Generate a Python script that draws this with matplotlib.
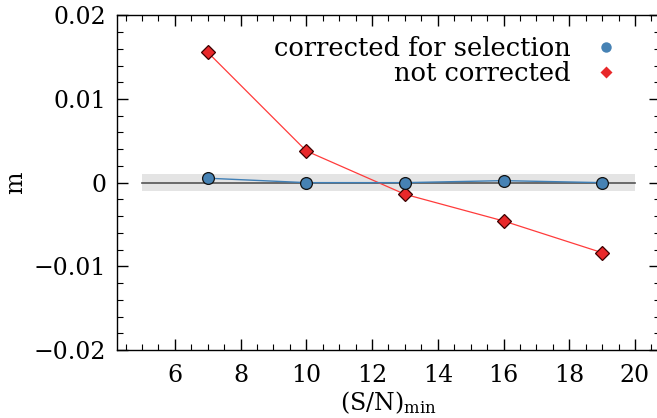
import matplotlib
matplotlib.use("Agg")
import matplotlib.pyplot as plt
from matplotlib.lines import Line2D
from matplotlib.ticker import MultipleLocator

sn_min = [7, 10, 13, 16, 19]
m_corrected = [0.00053, 0.0, 0.0, 0.00024, 0.0]
m_not_corrected = [0.01558, 0.00379, -0.00139, -0.00458, -0.00837]
band_x = [5, 20]
band_half = 0.001

plt.rcParams['font.family'] = ['DejaVu Serif']
plt.rcParams['mathtext.fontset'] = 'dejavuserif'

fig = plt.figure(figsize=(6.57, 4.18), dpi=100)
ax = fig.add_axes([0.1786, 0.1627, 1.004 - 0.1786, 0.9634 - 0.1627])

ax.fill_between(band_x, [-band_half] * 2, [band_half] * 2, color='#e4e4e4', lw=0, zorder=1)
ax.plot(band_x, [0, 0], color='#555555', lw=1.2, zorder=2)

ax.plot(sn_min, m_not_corrected, color='#ff3b3b', lw=0.9, zorder=3)
ax.plot(sn_min, m_not_corrected, ls='none', marker='D', ms=7, mfc='#e8282a',
        mec='#3a0000', mew=0.9, zorder=4)
ax.plot(sn_min, m_corrected, color='#3f7fb6', lw=1.0, zorder=3)
ax.plot(sn_min, m_corrected, ls='none', marker='o', ms=8.5, mfc='#4682b4',
        mec='#111111', mew=0.9, zorder=5)

ax.set_xlim(4.25, 20.75)
ax.set_ylim(-0.02, 0.02)
ax.xaxis.set_major_locator(MultipleLocator(2))
ax.xaxis.set_minor_locator(MultipleLocator(0.5))
ax.yaxis.set_major_locator(MultipleLocator(0.01))
ax.yaxis.set_minor_locator(MultipleLocator(0.002))
ax.set_yticks([-0.02, -0.01, 0, 0.01, 0.02])
ax.set_yticklabels(['\u22120.02', '\u22120.01', '0', '0.01', '0.02'])

ax.tick_params(which='both', direction='in', top=True, right=True, labelsize=17)
ax.tick_params(which='major', length=8, width=1)
ax.tick_params(which='minor', length=4, width=0.8)
ax.tick_params(axis='x', which='major', pad=10)
ax.tick_params(axis='y', which='major', pad=8)
for s in ax.spines.values():
    s.set_linewidth(1.0)

ax.set_xlabel(r'(S/N)$_{\rm min}$', fontsize=17, labelpad=2)
ax.set_ylabel('m', fontsize=17, labelpad=5)

handles = [
    Line2D([], [], ls='none', marker='o', ms=7.5, mfc='#4682b4', mec='none'),
    Line2D([], [], ls='none', marker='D', ms=6.5, mfc='#e8282a', mec='none'),
]
ax.legend(handles, ['corrected for selection', 'not corrected'], loc='upper right',
          markerfirst=False, frameon=False, fontsize=18.5, handlelength=1.0,
          handletextpad=0.85, labelspacing=0.0, borderaxespad=0.0,
          bbox_to_anchor=(0.943, 0.97))

fig.savefig('out.png', dpi=100)
